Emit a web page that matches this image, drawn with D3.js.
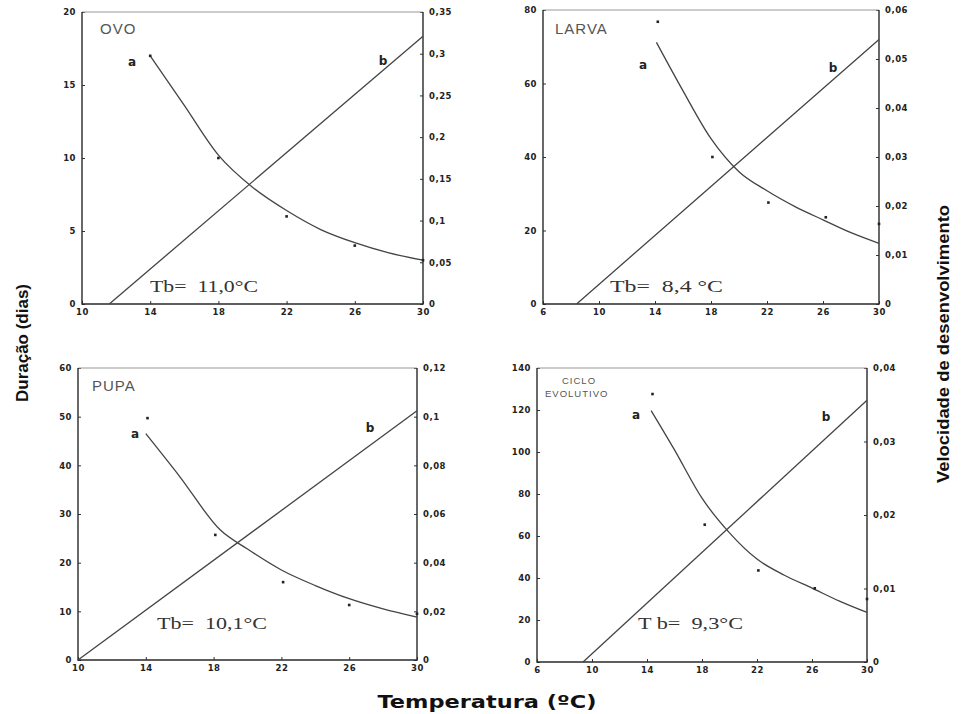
<!DOCTYPE html>
<html>
<head>
<meta charset="utf-8">
<script src="https://cdn.jsdelivr.net/npm/d3@7"></script>
<style>
  body { margin: 0; background: #fff; }
  svg { display: block; }
  .tick text { font-family: "DejaVu Sans", sans-serif; font-weight: bold; font-size: 8.5px; fill: #222; }
  .tick line { stroke: #333; }
  .tb { white-space: pre; }
</style>
</head>
<body>
<div id="chart"></div>
<script>
// ---- data ----
// OVO
var ovoObsT = [14, 18, 22, 26, 30];
var ovoObsD = [17, 10, 6, 4, 3];
var ovoCurveT = [14, 16, 18, 20, 22, 24, 26, 28, 30];
var ovoCurveD = [17, 13.6, 10.2, 8.0, 6.4, 5.1, 4.2, 3.5, 3.0];
var ovoRateT = [11.6, 30];
var ovoRateV = [0, 0.321];

// LARVA
var larvaObsT = [14.2, 18.1, 22.1, 26.2, 30];
var larvaObsD = [76.8, 40, 27.6, 23.6, 21.8];
var larvaCurveT = [14.1, 16, 18, 20, 22, 24, 26, 28, 30];
var larvaCurveD = [71.2, 58, 45, 36, 30.8, 26.5, 22.9, 19.4, 16.5];
var larvaRateT = [8.4, 30];
var larvaRateV = [0, 0.054];

// PUPA
var pupaObsT = [14.1, 18.1, 22.1, 26, 30];
var pupaObsD = [49.7, 25.7, 16, 11.3, 9.5];
var pupaCurveT = [14, 16, 18.4, 20, 22, 24, 26, 28, 30];
var pupaCurveD = [46.5, 37.7, 26.7, 22.8, 18.5, 15.3, 12.6, 10.5, 8.8];
var pupaRateT = [10, 30];
var pupaRateV = [0, 0.1024];

// CICLO EVOLUTIVO
var cicloObsT = [14.4, 18.2, 22.1, 26.2, 30];
var cicloObsD = [127.6, 65.4, 43.6, 35.1, 30];
var cicloCurveT = [14.3, 16, 18, 20, 22, 24, 26, 28, 30];
var cicloCurveD = [119.7, 101, 78, 61.5, 49, 41.3, 35.2, 29, 23.6];
var cicloRateT = [9.35, 30];
var cicloRateV = [0, 0.0356];

// ticks
var ovoXTicks = [10, 14, 18, 22, 26, 30];
var ovoDTicks = [0, 5, 10, 15, 20];
var ovoVTicks = [0, 0.05, 0.1, 0.15, 0.2, 0.25, 0.3, 0.35];
var larvaXTicks = [6, 10, 14, 18, 22, 26, 30];
var larvaDTicks = [0, 20, 40, 60, 80];
var larvaVTicks = [0, 0.01, 0.02, 0.03, 0.04, 0.05, 0.06];
var pupaXTicks = [10, 14, 18, 22, 26, 30];
var pupaDTicks = [0, 10, 20, 30, 40, 50, 60];
var pupaVTicks = [0, 0.02, 0.04, 0.06, 0.08, 0.1, 0.12];
var cicloXTicks = [6, 10, 14, 18, 22, 26, 30];
var cicloDTicks = [0, 20, 40, 60, 80, 100, 120, 140];
var cicloVTicks = [0, 0.01, 0.02, 0.03, 0.04];

var svg = d3.select("#chart")
  .append("svg")
  .attr("width", 964)
  .attr("height", 714);

// panel layout (pixel boxes) + annotations
var panels = [
  { name: ["OVO"], nameAt: [[18, 22]], nameSize: 15, tb: "Tb=  11,0°C", tbAt: [68, 280], tbLen: 108,
    aAt: [50, 54], bAt: [301, 53],
    box: { left: 82, right: 423, top: 12, bottom: 304 },
    xDomain: [10, 30], dMax: 20, vMax: 0.35,
    xTicks: ovoXTicks, dTicks: ovoDTicks, vTicks: ovoVTicks,
    obsT: ovoObsT, obsD: ovoObsD, curveT: ovoCurveT, curveD: ovoCurveD, rateT: ovoRateT, rateV: ovoRateV },
  { name: ["LARVA"], nameAt: [[12, 24]], nameSize: 15, tb: "Tb=  8,4 °C", tbAt: [67, 282], tbLen: 113,
    aAt: [100, 59], bAt: [290, 62],
    box: { left: 543, right: 879, top: 10, bottom: 304 },
    xDomain: [6, 30], dMax: 80, vMax: 0.06,
    xTicks: larvaXTicks, dTicks: larvaDTicks, vTicks: larvaVTicks,
    obsT: larvaObsT, obsD: larvaObsD, curveT: larvaCurveT, curveD: larvaCurveD, rateT: larvaRateT, rateV: larvaRateV },
  { name: ["PUPA"], nameAt: [[14, 23]], nameSize: 15, tb: "Tb=  10,1°C", tbAt: [79, 261], tbLen: 110,
    aAt: [57, 70], bAt: [292, 64],
    box: { left: 78, right: 417, top: 368, bottom: 660 },
    xDomain: [10, 30], dMax: 60, vMax: 0.12,
    xTicks: pupaXTicks, dTicks: pupaDTicks, vTicks: pupaVTicks,
    obsT: pupaObsT, obsD: pupaObsD, curveT: pupaCurveT, curveD: pupaCurveD, rateT: pupaRateT, rateV: pupaRateV },
  { name: ["CICLO", "EVOLUTIVO"], nameAt: [[25, 16], [8, 29]], nameSize: 9.5, tb: "T b=  9,3°C", tbAt: [101, 261], tbLen: 105,
    aAt: [99, 51], bAt: [289, 53],
    box: { left: 537, right: 867, top: 368, bottom: 662 },
    xDomain: [6, 30], dMax: 140, vMax: 0.04,
    xTicks: cicloXTicks, dTicks: cicloDTicks, vTicks: cicloVTicks,
    obsT: cicloObsT, obsD: cicloObsD, curveT: cicloCurveT, curveD: cicloCurveD, rateT: cicloRateT, rateV: cicloRateV }
];

function comma(v) { return String(v).replace(".", ","); }

panels.forEach(function (p) {
  var b = p.box;
  var w = b.right - b.left, h = b.bottom - b.top;
  var g = svg.append("g").attr("transform", "translate(" + b.left + "," + b.top + ")");

  var x = d3.scaleLinear().domain(p.xDomain).range([0, w]);
  var yD = d3.scaleLinear().domain([0, p.dMax]).range([h, 0]);
  var yV = d3.scaleLinear().domain([0, p.vMax]).range([h, 0]);

  // axes, ticks pointing inward
  g.append("g")
    .attr("transform", "translate(0," + h + ")")
    .call(d3.axisBottom(x).tickValues(p.xTicks).tickSize(-3).tickPadding(5).tickFormat(comma))
    .call(function (s) { s.select(".domain").remove(); });
  g.append("g")
    .call(d3.axisLeft(yD).tickValues(p.dTicks).tickSize(-3).tickPadding(6).tickFormat(comma))
    .call(function (s) { s.select(".domain").remove(); });
  g.append("g")
    .attr("transform", "translate(" + w + ",0)")
    .call(d3.axisRight(yV).tickValues(p.vTicks).tickSize(-3).tickPadding(6).tickFormat(comma))
    .call(function (s) { s.select(".domain").remove(); });
  g.selectAll(".tick text")
    .attr("font-family", "DejaVu Sans, sans-serif")
    .attr("font-weight", "bold")
    .attr("font-size", 8.5)
    .attr("letter-spacing", 0.5);

  // frame
  g.append("line").attr("x1", 0).attr("x2", w).attr("y1", 0).attr("y2", 0)
    .attr("stroke", "#999").attr("stroke-width", 1);
  g.append("path")
    .attr("d", "M0,0V" + h + "H" + w + "V0")
    .attr("fill", "none").attr("stroke", "#2a2a2a").attr("stroke-width", 1.4);

  // fitted duration curve (a)
  var curvePts = p.curveT.map(function (t, i) { return [t, p.curveD[i]]; });
  g.append("path")
    .datum(curvePts)
    .attr("fill", "none")
    .attr("stroke", "#444")
    .attr("stroke-width", 1.3)
    .attr("d", d3.line()
      .x(function (d) { return x(d[0]); })
      .y(function (d) { return yD(d[1]); })
      .curve(d3.curveMonotoneX));

  // development rate line (b)
  var ratePts = p.rateT.map(function (t, i) { return [t, p.rateV[i]]; });
  g.append("path")
    .datum(ratePts)
    .attr("fill", "none")
    .attr("stroke", "#444")
    .attr("stroke-width", 1.3)
    .attr("d", d3.line()
      .x(function (d) { return x(d[0]); })
      .y(function (d) { return yV(d[1]); }));

  // observed points
  g.selectAll("rect.obs")
    .data(p.obsT.map(function (t, i) { return [t, p.obsD[i]]; }))
    .join("rect")
    .attr("class", "obs")
    .attr("x", function (d) { return x(d[0]) - 1.3; })
    .attr("y", function (d) { return yD(d[1]) - 1.3; })
    .attr("width", 2.6)
    .attr("height", 2.6)
    .attr("fill", "#222");

  // panel name
  p.name.forEach(function (n, i) {
    g.append("text")
      .attr("x", p.nameAt[i][0])
      .attr("y", p.nameAt[i][1])
      .attr("font-family", "Liberation Sans, Arial, sans-serif")
      .attr("font-size", p.nameSize)
      .attr("letter-spacing", 1)
      .attr("fill", "#555")
      .text(n);
  });

  // curve labels
  [["a", p.aAt], ["b", p.bAt]].forEach(function (l) {
    g.append("text")
      .attr("x", l[1][0])
      .attr("y", l[1][1])
      .attr("text-anchor", "middle")
      .attr("font-family", "DejaVu Sans, sans-serif")
      .attr("font-weight", "bold")
      .attr("font-size", 12)
      .attr("fill", "#222")
      .text(l[0]);
  });

  // base temperature
  g.append("text")
    .attr("class", "tb")
    .attr("x", p.tbAt[0])
    .attr("y", p.tbAt[1])
    .attr("font-family", "Liberation Serif, Times New Roman, serif")
    .attr("font-size", 17)
    .attr("fill", "#333")
    .attr("textLength", p.tbLen)
    .attr("lengthAdjust", "spacingAndGlyphs")
    .text(p.tb);
});

// axis titles
svg.append("text")
  .attr("transform", "translate(28,343) rotate(-90)")
  .attr("text-anchor", "middle")
  .attr("font-family", "Liberation Sans Narrow, Liberation Sans, Arial, sans-serif")
  .attr("font-weight", "bold")
  .attr("font-size", 17)
  .attr("textLength", 118)
  .attr("lengthAdjust", "spacingAndGlyphs")
  .attr("fill", "#111")
  .text("Duração (dias)");

svg.append("text")
  .attr("transform", "translate(949,344) rotate(-90)")
  .attr("text-anchor", "middle")
  .attr("font-family", "Liberation Sans, Arial, sans-serif")
  .attr("font-weight", "bold")
  .attr("font-size", 17)
  .attr("textLength", 278)
  .attr("lengthAdjust", "spacingAndGlyphs")
  .attr("fill", "#111")
  .text("Velocidade de desenvolvimento");

svg.append("text")
  .attr("x", 487)
  .attr("y", 708)
  .attr("text-anchor", "middle")
  .attr("font-family", "DejaVu Sans, sans-serif")
  .attr("font-weight", "bold")
  .attr("font-size", 17)
  .attr("textLength", 219)
  .attr("lengthAdjust", "spacingAndGlyphs")
  .attr("fill", "#111")
  .text("Temperatura (ºC)");
</script>
</body>
</html>
